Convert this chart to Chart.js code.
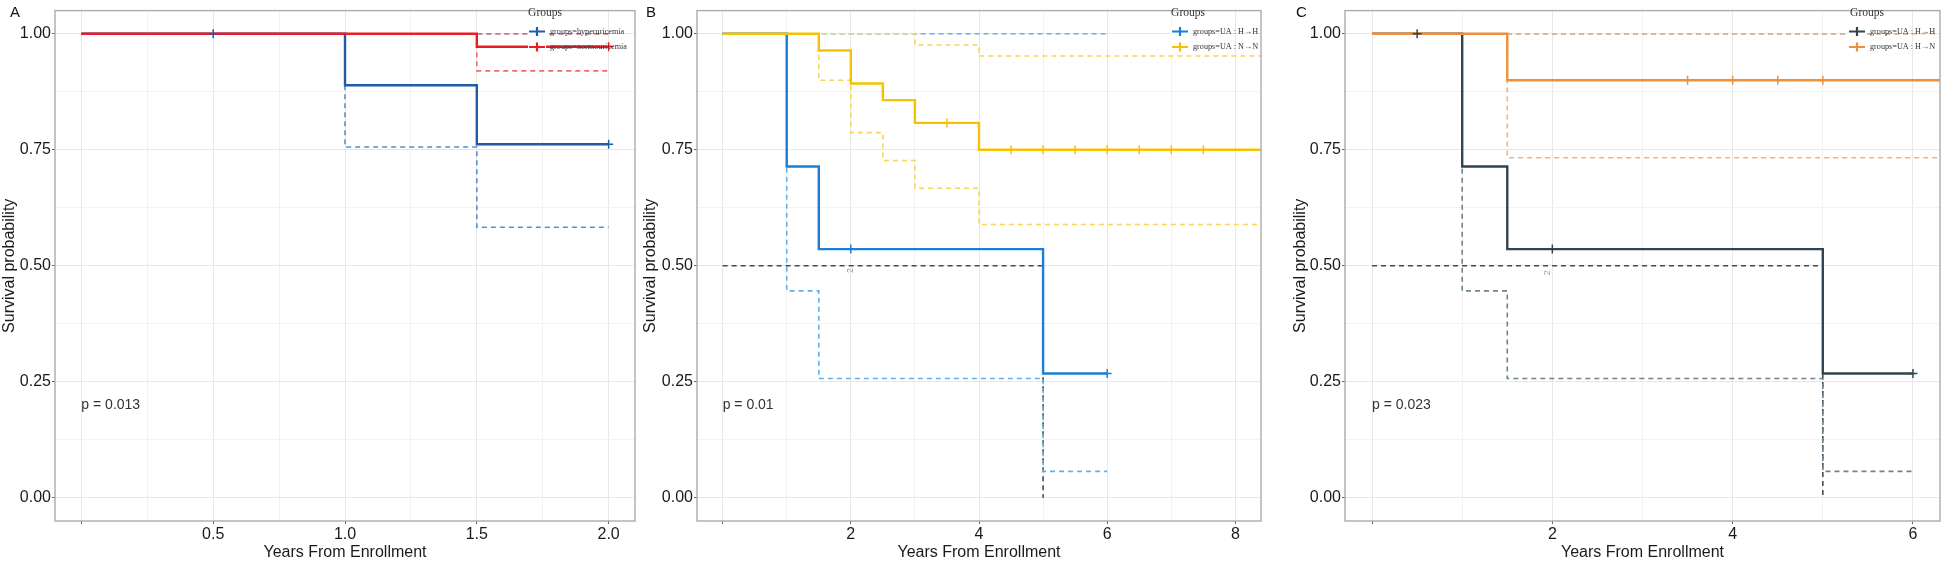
<!DOCTYPE html>
<html lang="en">
<head>
<meta charset="UTF-8">
<title>Survival curves</title>
<script src="https://cdn.jsdelivr.net/npm/chart.js"></script>
<style>
  html, body { margin: 0; padding: 0; background: #fff; }
  #wrap { position: relative; width: 1946px; height: 562px; overflow: hidden; }
  .panel { position: absolute; top: 0; height: 562px; }
</style>
</head>
<body>
<div id="wrap">
  <div class="panel" style="left:0;width:641px"><canvas id="chartA" width="641" height="562"></canvas></div>
  <div class="panel" style="left:641px;width:650px"><canvas id="chartB" width="650" height="562"></canvas></div>
  <div class="panel" style="left:1291px;width:655px"><canvas id="chartC" width="655" height="562"></canvas></div>
</div>
<script>
// ---- tick labels ----
const yTickValues = [0, 0.25, 0.5, 0.75, 1];
const yTickLabels = ['0.00', '0.25', '0.50', '0.75', '1.00'];
const xTicksA = [0, 0.5, 1, 1.5, 2];
const xLabelsA = ['', '0.5', '1.0', '1.5', '2.0'];
const xTicksB = [0, 2, 4, 6, 8];
const xLabelsB = ['', '2', '4', '6', '8'];
const xTicksC = [0, 2, 4, 6];
const xLabelsC = ['', '2', '4', '6'];

// ---- panel A: hyperuricemia vs normouricemia ----
const hyperTime  = [0, 1, 1.5, 2];
const hyperSurv  = [1, 0.889, 0.762, 0.762];
const hyperLower = [1, 0.756, 0.583, 0.583];
const hyperUpper = [1, 1, 1, 1];
const hyperCensTime = [0.5, 2];
const hyperCensSurv = [1, 0.762];

const normoTime  = [0, 1.5, 2];
const normoSurv  = [1, 0.972, 0.972];
const normoLower = [1, 0.92, 0.92];
const normoUpper = [1, 1, 1];
const normoCensTime = [2];
const normoCensSurv = [0.972];

// ---- panel B: UA H->H vs N->N ----
const hhTime  = [0, 1, 1.5, 5, 6];
const hhSurv  = [1, 0.714, 0.536, 0.268, 0.268];
const hhLower = [1, 0.446, 0.257, 0.057, 0.057];
const hhUpper = [1, 1, 1, 1, 1];
const hhCensTimeB = [2, 6];
const hhCensSurvB = [0.536, 0.268];

const nnTime  = [0, 1.5, 2, 2.5, 3, 4, 8.4];
const nnSurv  = [1, 0.964, 0.893, 0.857, 0.808, 0.75, 0.75];
const nnLower = [1, 0.9, 0.787, 0.727, 0.667, 0.589, 0.589];
const nnUpper = [1, 1, 1, 1, 0.976, 0.952, 0.952];
const nnCensTime = [3.5, 4.5, 5, 5.5, 6, 6.5, 7, 7.5];
const nnCensSurv = [0.808, 0.75, 0.75, 0.75, 0.75, 0.75, 0.75, 0.75];

// median survival guide (B and C)
const medTime = [0, 5, 5];
const medSurv = [0.5, 0.5, 0];

// ---- panel C: UA H->H vs H->N ----
const hhCensTimeC = [0.5, 2, 6];
const hhCensSurvC = [1, 0.536, 0.268];

const hnTime  = [0, 1.5, 6.3];
const hnSurv  = [1, 0.9, 0.9];
const hnLower = [1, 0.733, 0.733];
const hnUpper = [1, 1, 1];
const hnCensTime = [3.5, 4, 4.5, 5];
const hnCensSurv = [0.9, 0.9, 0.9, 0.9];

// ---- helpers ----
Chart.defaults.font.family = '"Liberation Sans", Arial, sans-serif';
Chart.defaults.color = '#1a1a1a';

const pts = (t, s) => t.map((x, i) => ({ x: x, y: s[i] }));
const withMinor = (major) => {
  const out = major.slice();
  for (let i = 0; i < major.length - 1; i++) out.push((major[i] + major[i + 1]) / 2);
  return out.sort((a, b) => a - b);
};

function stepLine(t, s, color, dashed, order) {
  return {
    type: 'line', data: pts(t, s), borderColor: color,
    borderWidth: dashed ? 1.6 : 2.4, borderDash: dashed ? [5, 4] : [],
    stepped: 'before', pointRadius: 0, fill: false, order: order
  };
}
function plainLine(t, s, color, order) {
  return {
    type: 'line', data: pts(t, s), borderColor: color, borderWidth: 1.6,
    borderDash: [5, 4], pointRadius: 0, fill: false, order: order
  };
}
function censor(t, s, color) {
  return {
    type: 'scatter', data: pts(t, s), pointStyle: 'cross', pointRadius: 4.5,
    pointBorderColor: color, pointBackgroundColor: color, pointBorderWidth: 1.5,
    showLine: false, order: 0
  };
}

const kmDecor = {
  id: 'kmDecor',
  afterDraw(chart, args, o) {
    const { ctx, chartArea: a, scales: { x, y } } = chart;
    ctx.save();
    // panel border
    ctx.strokeStyle = '#ababab';
    ctx.lineWidth = 1.4;
    ctx.strokeRect(a.left, a.top, a.right - a.left, a.bottom - a.top);

    // panel letter
    ctx.fillStyle = '#111';
    ctx.font = '15px "Liberation Sans", Arial, sans-serif';
    ctx.textBaseline = 'top';
    ctx.textAlign = 'left';
    ctx.fillText(o.letter, o.letterX, 5);

    // p value
    ctx.fillStyle = '#333';
    ctx.font = '14px "Liberation Sans", Arial, sans-serif';
    ctx.textBaseline = 'middle';
    ctx.fillText(o.pText, x.getPixelForValue(o.pAt[0]), y.getPixelForValue(o.pAt[1]));

    // small rotated count label
    if (o.note) {
      ctx.save();
      ctx.translate(x.getPixelForValue(o.note[0]), y.getPixelForValue(o.note[1]));
      ctx.rotate(-Math.PI / 2);
      ctx.fillStyle = '#9a9a9a';
      ctx.font = '9px "Liberation Sans", Arial, sans-serif';
      ctx.textAlign = 'center';
      ctx.fillText(o.note[2], 0, 0);
      ctx.restore();
    }

    // legend
    const L = o.legend;
    ctx.fillStyle = '#333';
    ctx.font = '11.5px "Liberation Serif", "DejaVu Serif", serif';
    ctx.textAlign = 'center';
    ctx.textBaseline = 'middle';
    ctx.fillText('Groups', L.titleX, 13);
    L.items.forEach((it, i) => {
      const cy = L.rowY[i];
      ctx.fillStyle = '#fff';
      ctx.fillRect(L.keyX - 9, cy - 7, 18, 14);
      ctx.strokeStyle = it.color;
      ctx.lineWidth = 2.2;
      ctx.beginPath();
      ctx.moveTo(L.keyX - 8, cy); ctx.lineTo(L.keyX + 8, cy);
      ctx.moveTo(L.keyX, cy - 4.5); ctx.lineTo(L.keyX, cy + 4.5);
      ctx.stroke();
      ctx.fillStyle = '#333';
      ctx.font = '8.2px "Liberation Serif", "DejaVu Serif", serif';
      ctx.textAlign = 'left';
      ctx.fillText(it.text, L.textX, cy);
    });
    ctx.restore();
  }
};

function makeChart(id, o) {
  const xGrid = withMinor(o.xTicks);
  const yGrid = withMinor(yTickValues);
  const isMajX = v => o.xTicks.includes(v);
  const isMajY = v => yTickValues.includes(v);
  return new Chart(document.getElementById(id), {
    type: 'line',
    data: { datasets: o.datasets },
    options: {
      responsive: false,
      animation: false,
      devicePixelRatio: 1,
      layout: { padding: { left: 0, right: o.padRight, top: 2, bottom: 0 } },
      plugins: { legend: { display: false }, tooltip: { enabled: false }, kmDecor: o.decor },
      scales: {
        x: {
          type: 'linear', min: o.xMin, max: o.xMax,
          afterBuildTicks: s => { s.ticks = xGrid.map(v => ({ value: v })); },
          afterFit: s => { s.height = 41; },
          border: { display: false },
          grid: {
            color: c => isMajX(c.tick.value) ? '#e8e8e8' : '#f2f2f2',
            tickColor: c => isMajX(c.tick.value) ? '#666' : 'rgba(0,0,0,0)',
            tickLength: 3, lineWidth: 1
          },
          ticks: {
            autoSkip: false, maxRotation: 0, padding: 1,
            font: { size: 16 }, color: '#1a1a1a',
            callback: v => { const i = o.xTicks.indexOf(v); return i >= 0 ? o.xLabels[i] : ''; }
          },
          title: { display: true, text: 'Years From Enrollment', font: { size: 16 }, color: '#1a1a1a', padding: { top: 0, bottom: 0 } }
        },
        y: {
          type: 'linear', min: -0.05, max: 1.05,
          afterBuildTicks: s => { s.ticks = yGrid.map(v => ({ value: v })); },
          afterFit: s => { s.width = o.yWidth; },
          border: { display: false },
          grid: {
            color: c => isMajY(c.tick.value) ? '#e8e8e8' : '#f2f2f2',
            tickColor: c => isMajY(c.tick.value) ? '#666' : 'rgba(0,0,0,0)',
            tickLength: 3, lineWidth: 1
          },
          ticks: {
            autoSkip: false, padding: 1, font: { size: 16 }, color: '#1a1a1a',
            callback: v => { const i = yTickValues.indexOf(v); return i >= 0 ? yTickLabels[i] : ''; }
          },
          title: { display: true, text: 'Survival probability', font: { size: 16 }, color: '#1a1a1a', padding: { top: 0, bottom: 0 } }
        }
      }
    },
    plugins: [kmDecor]
  });
}

// colours
const blueA = '#1f5ba6', blueACI = '#5b8fcc';
const redA = '#ec1c24', redACI = '#f26b6b';
const blueB = '#1b7fd6', blueBCI = '#62b0ea';
const goldB = '#f6c200', goldBCI = '#f8d458';
const slateC = '#30454f', slateCCI = '#6e8290';
const orangeC = '#ef8f3a', orangeCCI = '#f4b27a';
const medColor = '#4a4a4a';

makeChart('chartA', {
  xMin: -0.1, xMax: 2.1, xTicks: xTicksA, xLabels: xLabelsA, yWidth: 55, padRight: 4,
  datasets: [
    censor(hyperCensTime, hyperCensSurv, blueA),
    censor(normoCensTime, normoCensSurv, redA),
    stepLine(normoTime, normoSurv, redA, false, 1),
    stepLine(hyperTime, hyperSurv, blueA, false, 2),
    stepLine(normoTime, normoUpper, redACI, true, 3),
    stepLine(normoTime, normoLower, redACI, true, 3),
    stepLine(hyperTime, hyperUpper, blueACI, true, 4),
    stepLine(hyperTime, hyperLower, blueACI, true, 4)
  ],
  decor: {
    letter: 'A', letterX: 10, pText: 'p = 0.013', pAt: [0, 0.2],
    legend: {
      titleX: 545, keyX: 537, textX: 550, rowY: [31.5, 47],
      items: [{ text: 'groups=hyperuricemia', color: blueA }, { text: 'groups=normouricemia', color: redA }]
    }
  }
});

makeChart('chartB', {
  xMin: -0.4, xMax: 8.4, xTicks: xTicksB, xLabels: xLabelsB, yWidth: 56, padRight: 30,
  datasets: [
    censor(hhCensTimeB, hhCensSurvB, blueB),
    censor(nnCensTime, nnCensSurv, goldB),
    stepLine(nnTime, nnSurv, goldB, false, 1),
    stepLine(hhTime, hhSurv, blueB, false, 2),
    stepLine(nnTime, nnUpper, goldBCI, true, 3),
    stepLine(nnTime, nnLower, goldBCI, true, 3),
    stepLine(hhTime, hhUpper, blueBCI, true, 4),
    stepLine(hhTime, hhLower, blueBCI, true, 4),
    plainLine(medTime, medSurv, medColor, 5)
  ],
  decor: {
    letter: 'B', letterX: 5, pText: 'p = 0.01', pAt: [0, 0.2], note: [2, 0.49, '2'],
    legend: {
      titleX: 547, keyX: 539, textX: 552, rowY: [31.5, 47],
      items: [{ text: 'groups=UA : H\u2192H', color: blueB }, { text: 'groups=UA : N\u2192N', color: goldB }]
    }
  }
});

makeChart('chartC', {
  xMin: -0.3, xMax: 6.3, xTicks: xTicksC, xLabels: xLabelsC, yWidth: 54, padRight: 3,
  datasets: [
    censor(hhCensTimeC, hhCensSurvC, slateC),
    censor(hnCensTime, hnCensSurv, orangeC),
    stepLine(hnTime, hnSurv, orangeC, false, 1),
    stepLine(hhTime, hhSurv, slateC, false, 2),
    stepLine(hnTime, hnUpper, orangeCCI, true, 3),
    stepLine(hnTime, hnLower, orangeCCI, true, 3),
    stepLine(hhTime, hhUpper, slateCCI, true, 4),
    stepLine(hhTime, hhLower, slateCCI, true, 4),
    plainLine(medTime, medSurv, medColor, 5)
  ],
  decor: {
    letter: 'C', letterX: 5, pText: 'p = 0.023', pAt: [0, 0.2], note: [1.95, 0.485, '2'],
    legend: {
      titleX: 576, keyX: 566, textX: 579, rowY: [31.5, 47],
      items: [{ text: 'groups=UA : H\u2192H', color: slateC }, { text: 'groups=UA : H\u2192N', color: orangeC }]
    }
  }
});
</script>
</body>
</html>
